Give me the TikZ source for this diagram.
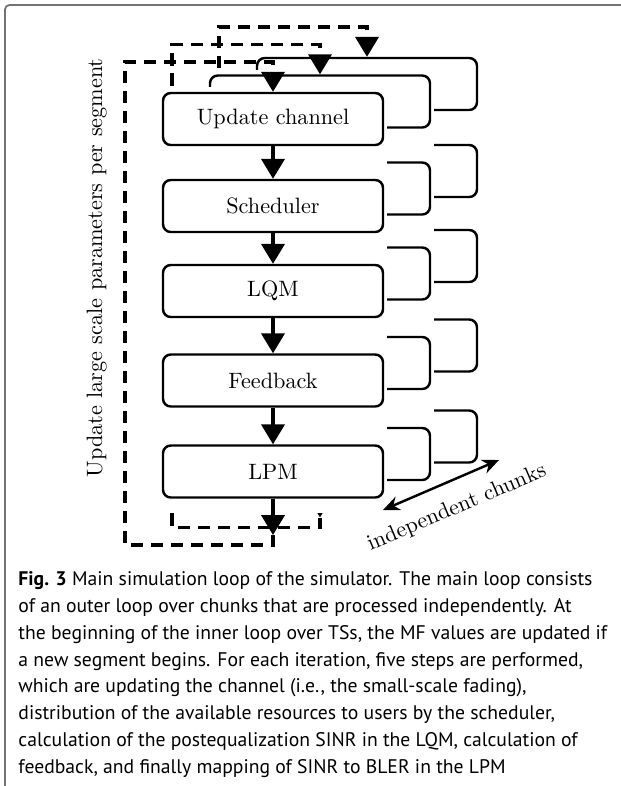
\documentclass[tikz,border=0pt]{standalone}
\usepackage{fontspec}
\newfontfamily\capfont{PT Sans}
\usetikzlibrary{arrows.meta}

\tikzset{
  stage/.style={draw, line width=1.1pt, rounded corners=3.5pt,
    minimum width=99pt, minimum height=23.4pt, inner sep=0pt},
  flow/.style={line width=1.4pt, -{Triangle[length=9pt,width=10.5pt]}},
  segloop/.style={flow, dash pattern=on 5.5pt off 3.5pt},
  chunkarrow/.style={line width=1.1pt,
    {Stealth[length=7.5pt,width=6.5pt]}-{Stealth[length=7.5pt,width=6.5pt]}},
}

\begin{document}
\begin{tikzpicture}[x=0.45pt, y=-0.45pt]
  \useasboundingbox (0,0) rectangle (621,786);

  % Draw frame
  \draw[black!55, line width=0.8pt, rounded corners=2pt] (5,786) -- (5,5) -- (621,5);

  % Draw chunks, back to front
  \foreach \layer in {2,1,0} {
    \begin{scope}[shift={(47*\layer,-17.5*\layer)}]
      % hide the chunk behind
      \fill[white] (150,87) rectangle (387,513);
      \foreach \n/\t/\y in {upd/Update channel/119, sch/Scheduler/206,
          lqm/LQM/291, fbk/Feedback/380.5, lpm/LPM/471.5}
        \node[stage] (\n\layer) at (273,\y) {\ifnum\layer=0 \t\fi};
      \foreach \a/\b in {upd/sch, sch/lqm, lqm/fbk, fbk/lpm}
        \draw[flow] (\a\layer) -- (\b\layer);
      % loop over segments
      \coordinate (end\layer) at (273,535);
      \draw[flow] (lpm\layer) -- (end\layer);
      \draw[segloop] (end\layer) -- (273,545) -- (125,545) -- (125,62)
        -- (273,62) -- (upd\layer);
    \end{scope}
  }

  % Draw loop label
  \node[rotate=90, anchor=base] (param) at (102,268)
    {Update large scale parameters per segment};

  % Draw chunk arrow
  \coordinate (chunkA) at (383,510);
  \coordinate (chunkB) at (499,460);
  \draw[chunkarrow] (chunkA) -- (chunkB);
  \node[rotate=23, anchor=base] (chunks) at (459,513) {independent chunks};

  % Caption
  \node[anchor=north west, align=left, inner sep=0pt,
    font=\capfont\fontsize{8.85}{12.1}\selectfont] (caption) at (18,571)
    {\textbf{Fig. 3} Main simulation loop of the simulator. The main loop consists\\
     of an outer loop over chunks that are processed independently. At\\
     the beginning of the inner loop over TSs, the MF values are updated if\\
     a new segment begins. For each iteration, five steps are performed,\\
     which are updating the channel (i.e., the small-scale fading),\\
     distribution of the available resources to users by the scheduler,\\
     calculation of the postequalization SINR in the LQM, calculation of\\
     feedback, and finally mapping of SINR to BLER in the LPM};
\end{tikzpicture}
\end{document}
